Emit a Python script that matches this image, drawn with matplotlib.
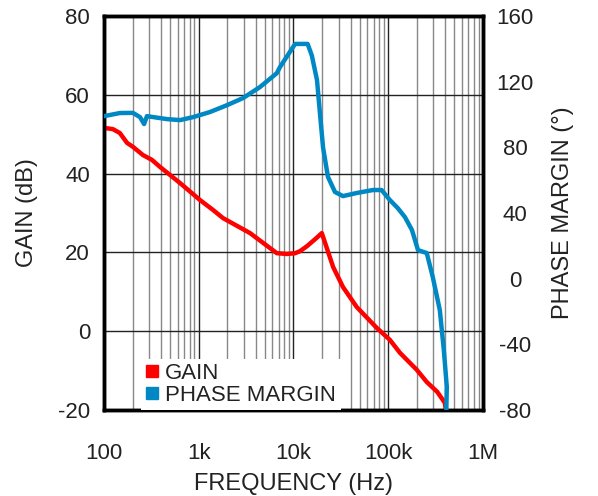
import matplotlib
matplotlib.use("Agg")
import matplotlib.pyplot as plt
from matplotlib.lines import Line2D
from matplotlib.ticker import FixedLocator, LogLocator, NullFormatter

plt.rcParams['font.family'] = ['Liberation Sans', 'DejaVu Sans']
plt.rcParams['axes.unicode_minus'] = False

# gain curve (Hz, dB)
gain_freq = [100, 124, 147, 175, 202, 258, 320, 390, 635, 1030, 1410, 1806, 3480,
             6670, 8500, 10400, 11700, 13900, 17000, 19900, 26200, 33300, 46600,
             75900, 104000, 133000, 200000, 255000, 329000, 396000, 405000]
gain_db = [51.6, 51.3, 50.3, 47.8, 46.8, 44.7, 43.5, 41.7, 37.6, 33.3, 30.8, 28.7, 24.9,
           19.8, 19.6, 19.8, 20.3, 21.6, 23.4, 24.9, 16.3, 11.2, 6.1,
           0.8, -2.2, -5.5, -9.8, -12.9, -15.4, -18.2, -20]

# phase margin curve (Hz, degrees)
phase_freq = [100, 147, 202, 240, 265, 284, 462, 635, 870, 1310, 1990, 2930, 4420,
              6670, 7200, 10400, 14100, 15600, 17700, 19000, 20500, 23100, 27400,
              33300, 46600, 69000, 85000, 104000, 126000, 150000, 178000, 206000,
              255000, 295000, 350000, 386000, 415000, 410000]
phase_deg = [99, 100.9, 101, 98.4, 94.2, 99, 97.2, 96.6, 98.4, 101.5, 105.7, 110, 116.7,
             125.2, 128.9, 143, 143, 136, 121, 101, 80, 62, 52.8,
             50.3, 52.2, 54, 54, 47.9, 43, 37.5, 29.6, 17.4,
             15.6, 1, -19.1, -43.5, -66, -80]

x_ticks = [100, 1e3, 1e4, 1e5, 1e6]
x_labels = ['100', '1k', '10k', '100k', '1M']
gain_ticks = [-20, 0, 20, 40, 60, 80]
phase_ticks = [-80, -40, 0, 40, 80, 120, 160]

red = '#ff0000'
blue = '#0088c4'

fig = plt.figure(figsize=(5.98, 4.96), dpi=100)
ax = fig.add_axes([0.1739, 0.1734, 0.8077 - 0.1739, 0.9677 - 0.1734])
ax2 = ax.twinx()

ax.set_xscale('log')
ax.set_xlim(100, 1e6)
ax.set_ylim(-20, 80)
ax2.set_ylim(-80, 160)

ax.xaxis.set_major_locator(FixedLocator(x_ticks))
ax.set_xticklabels(x_labels)
ax.xaxis.set_minor_locator(LogLocator(base=10, subs=range(2, 10)))
ax.xaxis.set_minor_formatter(NullFormatter())
ax.set_yticks(gain_ticks)
ax2.set_yticks(phase_ticks)

ax.grid(True, which='major', axis='both', color='#222222', linewidth=1.0)
ax.grid(True, which='minor', axis='x', color='#888888', linewidth=1.0)
ax.set_axisbelow(True)

ax.plot(gain_freq, gain_db, color=red, linewidth=3.2, solid_capstyle='round',
        solid_joinstyle='round', zorder=3)
ax2.plot(phase_freq, phase_deg, color=blue, linewidth=3.2, solid_capstyle='round',
         solid_joinstyle='round', zorder=3)

for a in (ax, ax2):
    for s in a.spines.values():
        s.set_linewidth(2.5)
    a.tick_params(which='both', length=0, labelsize=16, labelcolor='#222222')
ax.tick_params(axis='x', pad=24)
ax.tick_params(axis='y', pad=10)
ax2.tick_params(axis='y', pad=23)
for t in ax2.get_yticklabels():
    t.set_horizontalalignment('center')

ax.set_xlabel('FREQUENCY (Hz)', fontsize=17, labelpad=6, color='#222222')
ax.set_ylabel('GAIN (dB)', fontsize=17, color='#222222')
ax2.set_ylabel('PHASE MARGIN (°)', fontsize=17, color='#222222')
ax.yaxis.set_label_coords(-0.174, 0.5)
ax2.yaxis.set_label_coords(1.182, 0.5)

handles = [Line2D([], [], marker='s', linestyle='none', color=red, markersize=8),
           Line2D([], [], marker='s', linestyle='none', color=blue, markersize=8)]
leg = ax2.legend(handles, ['GAIN', 'PHASE MARGIN'], loc='lower left',
                 bbox_to_anchor=(0.097, 0.0), frameon=True, fontsize=16,
                 handlelength=0.6, handletextpad=0.3, labelspacing=0.02,
                 borderpad=0.2, borderaxespad=0, fancybox=False)
leg.get_frame().set_edgecolor('none')
leg.get_frame().set_facecolor('white')
leg.get_frame().set_alpha(1)
for t in leg.get_texts():
    t.set_color('#222222')

fig.savefig('out.png', dpi=100)
